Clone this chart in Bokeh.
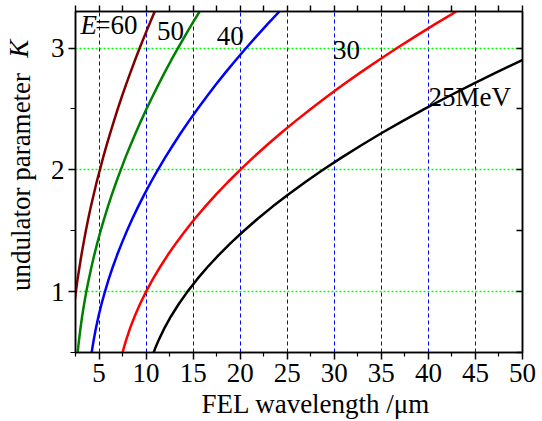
from bokeh.plotting import figure
from bokeh.models import Range1d, FixedTicker, LinearAxis, Label
from bokeh.embed import file_html
from bokeh.resources import INLINE

# ---- data ----
K_vals = [0.5, 0.55, 0.6, 0.7, 0.8, 0.9, 1.0, 1.1, 1.2, 1.3, 1.4, 1.5, 1.6, 1.7, 1.8, 1.9,
          2.0, 2.1, 2.2, 2.3, 2.4, 2.5, 2.6, 2.7, 2.8, 2.9, 3.0, 3.1, 3.2, 3.3]
lam_25 = [10.80, 11.05, 11.33, 11.95, 12.67, 13.49, 14.40, 15.41, 16.51, 17.71, 19.01, 20.40,
          21.89, 23.47, 25.15, 26.93, 28.80, 30.77, 32.83, 34.99, 37.25, 39.60, 42.05, 44.59,
          47.23, 49.97, 52.80, 55.73, 58.75, 61.87]
lam_30 = [7.50, 7.68, 7.87, 8.30, 8.80, 9.37, 10.00, 10.70, 11.47, 12.30, 13.20, 14.17,
          15.20, 16.30, 17.47, 18.70, 20.00, 21.37, 22.80, 24.30, 25.87, 27.50, 29.20, 30.97,
          32.80, 34.70, 36.67, 38.70, 40.80, 42.97]
lam_40 = [4.22, 4.32, 4.43, 4.67, 4.95, 5.27, 5.63, 6.02, 6.45, 6.92, 7.43, 7.97,
          8.55, 9.17, 9.83, 10.52, 11.25, 12.02, 12.83, 13.67, 14.55, 15.47, 16.43, 17.42,
          18.45, 19.52, 20.63, 21.77, 22.95, 24.17]
lam_50 = [2.74, 2.80, 2.87, 3.03, 3.21, 3.42, 3.65, 3.91, 4.19, 4.49, 4.82, 5.17,
          5.55, 5.95, 6.38, 6.83, 7.31, 7.80, 8.33, 8.88, 9.45, 10.04, 10.67, 11.31,
          11.98, 12.67, 13.39, 14.14, 14.90, 15.69]
lam_60 = [1.91, 1.95, 2.00, 2.11, 2.24, 2.38, 2.54, 2.72, 2.92, 3.13, 3.36, 3.60,
          3.86, 4.14, 4.44, 4.75, 5.09, 5.43, 5.80, 6.18, 6.58, 6.99, 7.42, 7.87,
          8.34, 8.82, 9.32, 9.84, 10.37, 10.92]

x_ticks = [5, 10, 15, 20, 25, 30, 35, 40, 45, 50]
x_minor = [2.5, 7.5, 12.5, 17.5, 22.5, 27.5, 32.5, 37.5, 42.5, 47.5]
x_grid = [5, 10, 15, 20, 25, 30, 35, 40, 45]
y_ticks = [1, 2, 3]
y_minor = [0.5, 1.5, 2.5]

FONT = "Liberation Serif"
FS = "27px"
NBSP = "\u00a0"

p = figure(width=542, height=421, x_range=Range1d(2.5, 50), y_range=Range1d(0.5, 3.3),
           output_backend="svg", toolbar_location=None,
           min_border_left=73, min_border_right=20, min_border_top=11, min_border_bottom=67)
p.outline_line_color = "black"
p.outline_line_width = 1.5
p.background_fill_color = "white"
p.border_fill_color = "white"


def base_style(ax):
    ax.axis_line_color = "black"
    ax.axis_line_width = 1.5
    ax.major_tick_line_color = "black"
    ax.major_tick_line_width = 1.5
    ax.minor_tick_line_color = "black"
    ax.minor_tick_line_width = 1.2


def label_style(ax, style="normal"):
    ax.axis_label_text_font = FONT
    ax.axis_label_text_font_size = FS
    ax.axis_label_text_font_style = style
    ax.axis_label_text_color = "black"


xb = p.xaxis[0]
base_style(xb)
xb.ticker = FixedTicker(ticks=x_ticks, minor_ticks=x_minor)
xb.major_tick_out = 7
xb.major_tick_in = 0
xb.minor_tick_out = 4
xb.minor_tick_in = 0
xb.major_label_text_font = FONT
xb.major_label_text_font_size = FS
xb.major_label_text_color = "black"
xb.major_label_standoff = 4
# leading no-break spaces nudge the centred title a little to the right, as in the reference
xb.axis_label = NBSP * 5 + "FEL wavelength /\u03bcm"
label_style(xb)
xb.axis_label_standoff = 4

yl = p.yaxis[0]
base_style(yl)
yl.ticker = FixedTicker(ticks=y_ticks, minor_ticks=y_minor)
yl.major_tick_out = 7
yl.major_tick_in = 0
yl.minor_tick_out = 5
yl.minor_tick_in = 0
yl.major_label_text_font = FONT
yl.major_label_text_font_size = FS
yl.major_label_text_color = "black"
yl.major_label_standoff = 4
yl.axis_label = "undulator parameter"
label_style(yl)
yl.axis_label_standoff = 12

# italic K: a tick-less outer axis whose title is folded back over the y-title column
yk = LinearAxis(ticker=FixedTicker(ticks=[], minor_ticks=[]))
yk.axis_line_color = None
yk.major_tick_line_color = None
yk.minor_tick_line_color = None
yk.major_tick_out = 0
yk.minor_tick_out = 0
yk.major_label_text_font_size = "0px"
yk.major_label_standoff = 0
yk.axis_label = "K" + NBSP * 11
label_style(yk, "italic")
yk.axis_label_standoff = -31
yk.axis_label_align = "end"
p.add_layout(yk, "left")

# top axis: ticks only
xt = LinearAxis()
base_style(xt)
xt.ticker = FixedTicker(ticks=[], minor_ticks=x_ticks + x_minor)
xt.minor_tick_out = 6
xt.minor_tick_in = 0
xt.minor_tick_line_width = 1.4
p.add_layout(xt, "above")

# right axis: inward ticks only
yr = LinearAxis()
base_style(yr)
yr.ticker = FixedTicker(ticks=[], minor_ticks=y_ticks + y_minor)
yr.minor_tick_out = 0
yr.minor_tick_in = 6
yr.minor_tick_line_width = 1.4
p.add_layout(yr, "right")

p.xgrid.ticker = FixedTicker(ticks=x_grid)
p.xgrid.grid_line_color = "#0000ff"
p.xgrid.grid_line_dash = "4 3"
p.xgrid.grid_line_width = 1
p.ygrid.ticker = FixedTicker(ticks=y_ticks)
p.ygrid.grid_line_color = "#00ff00"
p.ygrid.grid_line_dash = "2 2"
p.ygrid.grid_line_width = 1.3

for lam, col in [(lam_60, "#800000"), (lam_50, "#008000"), (lam_40, "#0000ff"),
                 (lam_30, "#ff0000"), (lam_25, "#000000")]:
    p.line(x=lam, y=K_vals, line_color=col, line_width=2.5)


def mk(x, y, text, style="normal", **kw):
    return Label(x=x, y=y, text=text, text_font=FONT, text_font_size=FS,
                 text_font_style=style, text_color="black", **kw)


p.add_layout(mk(3.03, 3.065, "E", style="italic"))
p.add_layout(mk(4.61, 3.065, "=60"))
p.add_layout(mk(11.16, 3.065, "50"))
p.add_layout(mk(17.5, 3.024, "40"))
p.add_layout(mk(29.85, 2.91, "30"))
p.add_layout(mk(40.0, 2.476, "25MeV"))

open("out.html", "w").write(file_html(p, INLINE))
